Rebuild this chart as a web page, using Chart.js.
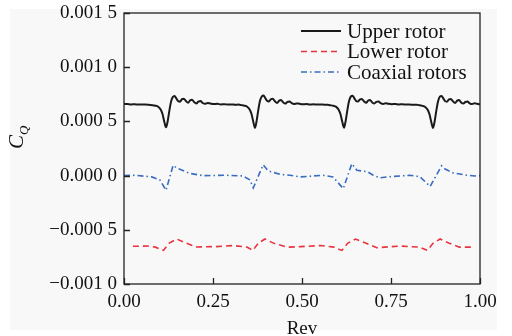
<!DOCTYPE html>
<html>
<head>
<meta charset="utf-8">
<title>Cq vs Rev</title>
<script src="https://cdn.jsdelivr.net/npm/chart.js@4.4.0/dist/chart.umd.min.js"></script>
<style>
  html, body { margin: 0; padding: 0; background: #ffffff; }
  #wrap { position: relative; width: 512px; height: 336px; }
</style>
</head>
<body>
<div id="wrap">
  <canvas id="cq" width="512" height="336"></canvas>
</div>
<script>
// [Rev, Cq]
var upperRotor = [
  [0.000,0.000662],[0.010,0.000660],[0.020,0.000657],[0.030,0.000658],[0.040,0.000656],[0.050,0.000655],
  [0.060,0.000656],[0.070,0.000653],[0.080,0.000650],[0.088,0.000645],[0.096,0.000635],[0.103,0.000610],
  [0.108,0.000570],[0.113,0.000500],[0.118,0.000445],[0.122,0.000490],[0.127,0.000590],[0.132,0.000680],
  [0.137,0.000725],[0.142,0.000735],[0.147,0.000712],[0.152,0.000688],[0.157,0.000682],[0.163,0.000705],
  [0.168,0.000710],[0.174,0.000688],[0.180,0.000672],[0.186,0.000695],[0.191,0.000700],[0.197,0.000678],
  [0.203,0.000666],[0.209,0.000682],[0.215,0.000688],[0.221,0.000670],[0.228,0.000662],[0.235,0.000670],
  [0.242,0.000666],[0.252,0.000660],[0.262,0.000662],[0.272,0.000657],[0.282,0.000659],[0.292,0.000655],
  [0.302,0.000657],[0.312,0.000654],[0.322,0.000655],[0.330,0.000650],[0.338,0.000645],[0.346,0.000635],
  [0.353,0.000610],[0.358,0.000570],[0.363,0.000500],[0.368,0.000440],
  [0.372,0.000495],[0.377,0.000600],[0.382,0.000690],[0.387,0.000730],[0.392,0.000738],[0.397,0.000715],
  [0.402,0.000690],[0.407,0.000684],[0.413,0.000706],[0.418,0.000708],[0.424,0.000686],[0.430,0.000670],
  [0.436,0.000692],[0.441,0.000698],[0.447,0.000676],[0.453,0.000664],[0.459,0.000680],[0.465,0.000684],
  [0.471,0.000668],[0.478,0.000660],[0.485,0.000666],[0.492,0.000663],[0.502,0.000658],[0.512,0.000660],
  [0.522,0.000656],[0.532,0.000658],[0.542,0.000655],[0.552,0.000656],[0.562,0.000654],[0.572,0.000653],
  [0.580,0.000649],[0.588,0.000644],[0.596,0.000634],[0.603,0.000608],[0.608,0.000568],[0.613,0.000498],
  [0.618,0.000442],
  [0.622,0.000492],[0.627,0.000595],[0.632,0.000685],[0.637,0.000728],[0.642,0.000736],[0.647,0.000713],
  [0.652,0.000688],[0.657,0.000683],[0.663,0.000704],[0.668,0.000707],[0.674,0.000686],[0.680,0.000671],
  [0.686,0.000693],[0.691,0.000697],[0.697,0.000676],[0.703,0.000665],[0.709,0.000680],[0.715,0.000683],
  [0.721,0.000668],[0.728,0.000661],[0.735,0.000668],[0.742,0.000663],[0.752,0.000659],[0.762,0.000661],
  [0.772,0.000657],[0.782,0.000658],[0.792,0.000655],[0.802,0.000656],[0.812,0.000653],[0.822,0.000653],
  [0.830,0.000649],[0.838,0.000643],[0.846,0.000633],[0.853,0.000607],[0.858,0.000567],[0.863,0.000497],
  [0.868,0.000440],
  [0.872,0.000490],[0.877,0.000592],[0.882,0.000683],[0.887,0.000727],[0.892,0.000735],[0.897,0.000712],
  [0.902,0.000687],[0.907,0.000682],[0.913,0.000704],[0.918,0.000707],[0.924,0.000685],[0.930,0.000670],
  [0.936,0.000692],[0.941,0.000697],[0.947,0.000675],[0.953,0.000664],[0.959,0.000679],[0.965,0.000683],
  [0.971,0.000667],[0.978,0.000660],[0.985,0.000667],[0.992,0.000662],[1.000,0.000657]
];

var lowerRotor = [
  [0.025,-0.000652],[0.070,-0.000650],[0.088,-0.000660],[0.111,-0.000690],[0.126,-0.000625],[0.148,-0.000585],
  [0.176,-0.000625],[0.204,-0.000658],[0.258,-0.000655],[0.306,-0.000645],[0.345,-0.000660],[0.362,-0.000690],
  [0.377,-0.000625],[0.396,-0.000585],[0.421,-0.000625],[0.458,-0.000660],[0.497,-0.000655],[0.553,-0.000645],
  [0.590,-0.000660],[0.612,-0.000690],[0.628,-0.000625],[0.650,-0.000585],[0.680,-0.000625],[0.710,-0.000665],
  [0.775,-0.000650],[0.830,-0.000660],[0.852,-0.000690],[0.868,-0.000625],[0.888,-0.000585],[0.914,-0.000625],
  [0.942,-0.000660],[0.985,-0.000660]
];

var coaxialRotors = [
  [0.000,0.000000],[0.031,0.000003],[0.078,-0.000012],[0.101,-0.000040],[0.118,-0.000135],[0.138,0.000095],
  [0.148,0.000070],[0.185,0.000020],[0.222,0.000000],[0.288,0.000003],[0.334,-0.000003],[0.354,-0.000040],
  [0.363,-0.000114],[0.391,0.000100],[0.405,0.000043],[0.438,0.000012],[0.466,0.000003],[0.494,-0.000012],
  [0.559,0.000003],[0.587,-0.000012],[0.616,-0.000120],[0.640,0.000110],[0.654,0.000050],[0.685,0.000034],
  [0.700,0.000003],[0.719,-0.000020],[0.747,-0.000010],[0.803,0.000003],[0.831,-0.000010],[0.860,-0.000100],
  [0.892,0.000090],[0.902,0.000060],[0.925,0.000025],[0.963,0.000003],[0.986,-0.000003],[1.000,0.000000]
];

var seriesNames = ['Upper rotor', 'Lower rotor', 'Coaxial rotors'];
var yTickLabels = ['\u22120.001 0', '\u22120.000 5', '0.000 0', '0.000 5', '0.001 0', '0.001 5'];
var xTickLabels = ['0.00', '0.25', '0.50', '0.75', '1.00'];

var SERIF = '"Liberation Serif", "DejaVu Serif", serif';

function pts(arr) {
  return arr.map(function (p) { return { x: p[0], y: p[1] }; });
}

// grey backdrop, frame, inward ticks, legend and C_Q label
var decor = {
  id: 'decor',
  beforeDraw: function (chart) {
    var c = chart.ctx;
    c.save();
    c.fillStyle = '#f8f8f8';
    c.fillRect(10, 9, 487, 321);
    c.restore();
  },
  afterDatasetsDraw: function (chart) {
    var c = chart.ctx, a = chart.chartArea;
    var xs = chart.scales.x, ys = chart.scales.y;
    c.save();
    c.strokeStyle = '#222';
    c.lineWidth = 1.3;
    c.strokeRect(a.left, a.top, a.right - a.left, a.bottom - a.top);
    c.beginPath();
    ys.ticks.forEach(function (t) {
      var py = Math.round(ys.getPixelForValue(t.value)) + 0.5;
      c.moveTo(a.left, py); c.lineTo(a.left + 6, py);
    });
    xs.ticks.forEach(function (t) {
      var px = Math.round(xs.getPixelForValue(t.value)) + 0.5;
      c.moveTo(px, a.bottom); c.lineTo(px, a.bottom - 6);
    });
    c.stroke();

    // legend inside the plot, top right
    chart.data.datasets.forEach(function (ds, i) {
      var ly = 31 + i * 20.5;
      c.beginPath();
      c.setLineDash(ds.borderDash || []);
      c.strokeStyle = ds.borderColor;
      c.lineWidth = ds.borderWidth;
      c.moveTo(301, ly); c.lineTo(341, ly);
      c.stroke();
      c.setLineDash([]);
      c.fillStyle = '#111';
      c.font = '21px ' + SERIF;
      c.textAlign = 'left';
      c.textBaseline = 'middle';
      c.fillText(ds.label, 347, ly + 1);
    });

    // y axis title C_Q
    c.translate(23, 141);
    c.rotate(-Math.PI / 2);
    c.fillStyle = '#111';
    c.textBaseline = 'alphabetic';
    c.textAlign = 'left';
    c.font = 'italic 21px ' + SERIF;
    c.fillText('C', -8, 0);
    c.font = 'italic 13px ' + SERIF;
    c.fillText('Q', 6, 5);
    c.restore();
  }
};

var ctx = document.getElementById('cq').getContext('2d');
var cqChart = new Chart(ctx, {
  type: 'line',
  data: {
    datasets: [{
      label: seriesNames[0],
      data: pts(upperRotor),
      borderColor: '#1a1a1a',
      borderWidth: 2,
      pointRadius: 0,
      cubicInterpolationMode: 'monotone'
    }, {
      label: seriesNames[1],
      data: pts(lowerRotor),
      borderColor: '#e8333f',
      borderWidth: 1.6,
      borderDash: [6, 4],
      pointRadius: 0,
      tension: 0
    }, {
      label: seriesNames[2],
      data: pts(coaxialRotors),
      borderColor: '#3a6cc0',
      borderWidth: 1.6,
      borderDash: [6, 3, 1.5, 3],
      pointRadius: 0,
      tension: 0
    }]
  },
  options: {
    responsive: false,
    animation: false,
    layout: { padding: { left: 0, top: 13, right: 32, bottom: 0 } },
    plugins: {
      legend: { display: false },
      tooltip: { enabled: false }
    },
    scales: {
      x: {
        type: 'linear',
        min: 0, max: 1,
        grid: { display: false, drawTicks: false },
        border: { display: false },
        ticks: {
          stepSize: 0.25,
          padding: 7,
          color: '#111',
          font: { family: SERIF, size: 19 },
          callback: function (v) {
            var i = Math.round(v / 0.25);
            return xTickLabels[i];
          }
        },
        title: {
          display: true,
          text: 'Rev',
          color: '#111',
          font: { family: SERIF, size: 19, lineHeight: 0.7 },
          padding: 0
        },
        afterFit: function (s) { s.height = 52; s.paddingLeft = 0; s.paddingRight = 0; }
      },
      y: {
        type: 'linear',
        min: -0.001, max: 0.0015,
        grid: { display: false, drawTicks: false },
        border: { display: false },
        ticks: {
          stepSize: 0.0005,
          padding: 7,
          color: '#111',
          font: { family: SERIF, size: 19 },
          callback: function (v) {
            var i = Math.round((v + 0.001) / 0.0005);
            return yTickLabels[i];
          }
        },
        afterFit: function (s) { s.width = 124; s.paddingTop = 0; s.paddingBottom = 0; }
      }
    }
  },
  plugins: [decor]
});
</script>
</body>
</html>
